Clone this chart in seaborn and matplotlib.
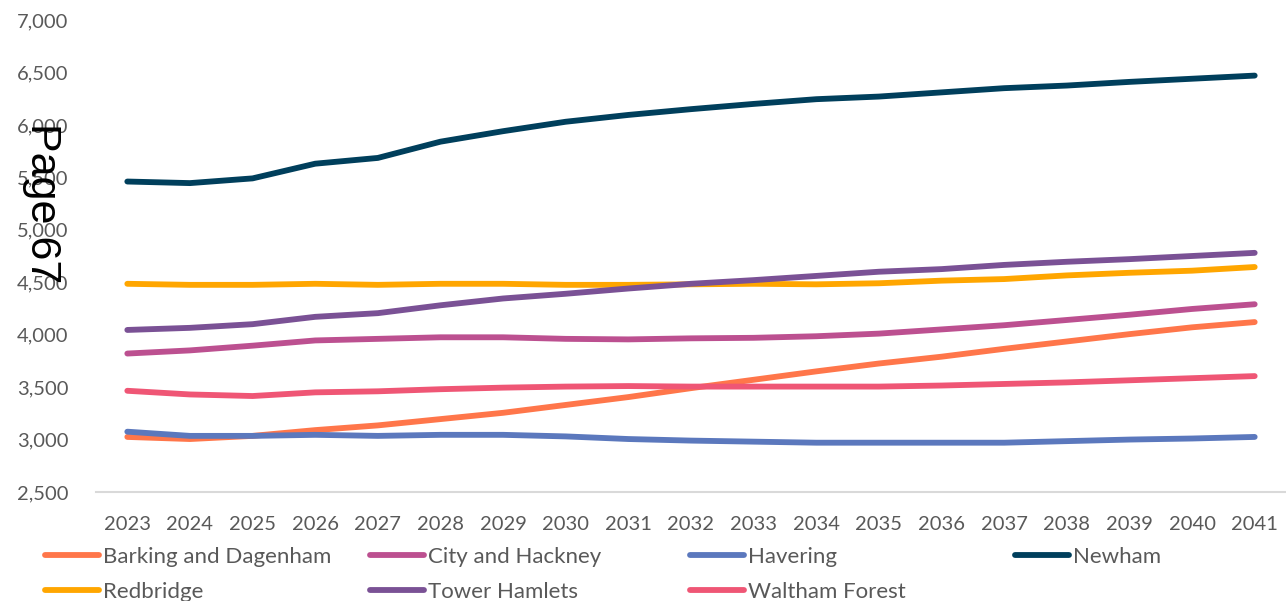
import numpy as np
import pandas as pd
import seaborn as sns
import matplotlib.pyplot as plt
from matplotlib.ticker import FuncFormatter, FixedLocator
from matplotlib.lines import Line2D

# Projected population by borough, 2023-2041
years = ["2023", "2024", "2025", "2026", "2027", "2028", "2029", "2030", "2031", "2032",
         "2033", "2034", "2035", "2036", "2037", "2038", "2039", "2040", "2041"]

barking_dagenham = [3025, 3005, 3035, 3090, 3135, 3195, 3255, 3330, 3405, 3490,
                    3570, 3650, 3725, 3790, 3865, 3935, 4005, 4070, 4120]
city_hackney = [3820, 3850, 3895, 3945, 3960, 3975, 3975, 3960, 3955, 3965,
                3970, 3985, 4010, 4050, 4090, 4140, 4190, 4245, 4290]
havering = [3075, 3035, 3035, 3045, 3035, 3045, 3045, 3030, 3005, 2990,
            2980, 2970, 2970, 2970, 2970, 2985, 3000, 3010, 3025]
newham = [5460, 5445, 5490, 5630, 5685, 5840, 5940, 6030, 6095, 6150,
          6200, 6245, 6270, 6310, 6350, 6375, 6410, 6440, 6470]
redbridge = [4485, 4475, 4475, 4485, 4475, 4485, 4485, 4475, 4475, 4480,
             4485, 4480, 4490, 4515, 4530, 4565, 4590, 4610, 4645]
tower_hamlets = [4045, 4065, 4100, 4170, 4205, 4280, 4345, 4390, 4440, 4485,
                 4520, 4560, 4600, 4625, 4665, 4695, 4720, 4750, 4780]
waltham_forest = [3465, 3430, 3415, 3450, 3460, 3480, 3495, 3505, 3510, 3505,
                  3505, 3505, 3505, 3515, 3530, 3545, 3565, 3585, 3605]

boroughs = ["Barking and Dagenham", "City and Hackney", "Havering", "Newham",
            "Redbridge", "Tower Hamlets", "Waltham Forest"]
series = [barking_dagenham, city_hackney, havering, newham,
          redbridge, tower_hamlets, waltham_forest]
colors = ["#ff764a", "#bc5090", "#5b78bd", "#003f5c", "#ffa600", "#7a5195", "#ef5675"]

df = pd.DataFrame({
    "Year": years * len(boroughs),
    "Population": [v for s in series for v in s],
    "Borough": [b for b in boroughs for _ in years],
})

sns.set_style("white")
plt.rcParams["font.family"] = ["Lato", "DejaVu Sans"]

W, H = 1286, 601
fig = plt.figure(figsize=(W / 100, H / 100), dpi=100)
ax = fig.add_axes([96 / W, 1 - 492 / H, 1 - 96 / W, (492 - 20) / H])

palette = dict(zip(boroughs, colors))
sns.lineplot(data=df, x="Year", y="Population", hue="Borough", hue_order=boroughs,
             palette=palette, linewidth=4.2, sort=False, legend=False, ax=ax)
for ln in ax.lines:
    ln.set_solid_capstyle("round")
    ln.set_solid_joinstyle("round")

grey = "#595959"
ax.set_xlim(-0.5, len(years) - 0.5)
ax.set_ylim(2500, 7000)
ax.set_yticks(np.arange(2500, 7001, 500))
ax.yaxis.set_major_formatter(FuncFormatter(lambda v, p: f"{int(v):,}"))
ax.set_xticks(range(len(years)))
ax.set_xticklabels(years)
ax.xaxis.set_minor_locator(FixedLocator(np.arange(-0.5, len(years), 1.0)))
ax.tick_params(axis="x", which="major", length=0, pad=17, labelsize=14.5, labelcolor=grey)
ax.tick_params(axis="x", which="minor", length=7, width=1.5, color="#d9d9d9")
ax.tick_params(axis="y", length=0, pad=20, labelsize=14.5, labelcolor=grey)
ax.set_xlabel("")
ax.set_ylabel("")
for side in ["left", "top", "right"]:
    ax.spines[side].set_visible(False)
ax.spines["bottom"].set_color("#d9d9d9")
ax.spines["bottom"].set_linewidth(1.5)
ax.grid(False)

# Legend: four fixed-width columns, filled row by row
columns = [[0, 4], [1, 5], [2, 6], [3]]
col_x = [45, 370, 690, 1015]
for idxs, cx in zip(columns, col_x):
    handles = [Line2D([], [], color=colors[i], linewidth=4.2, solid_capstyle="round")
               for i in idxs]
    labels = [boroughs[i] for i in idxs]
    leg = fig.legend(handles, labels, loc="upper left",
                     bbox_to_anchor=(cx / W, 1 - 547 / H), frameon=False,
                     borderpad=0, borderaxespad=0, handlelength=2.45,
                     handletextpad=0.14, labelspacing=0.66, fontsize=16)
    for t in leg.get_texts():
        t.set_color(grey)

fig.text(42 / W, 1 - 203 / H, "Page 67", rotation=270, ha="center", va="center",
         fontsize=31, color="black", family=["Liberation Sans", "DejaVu Sans"])

fig.savefig("out.png", dpi=100)
